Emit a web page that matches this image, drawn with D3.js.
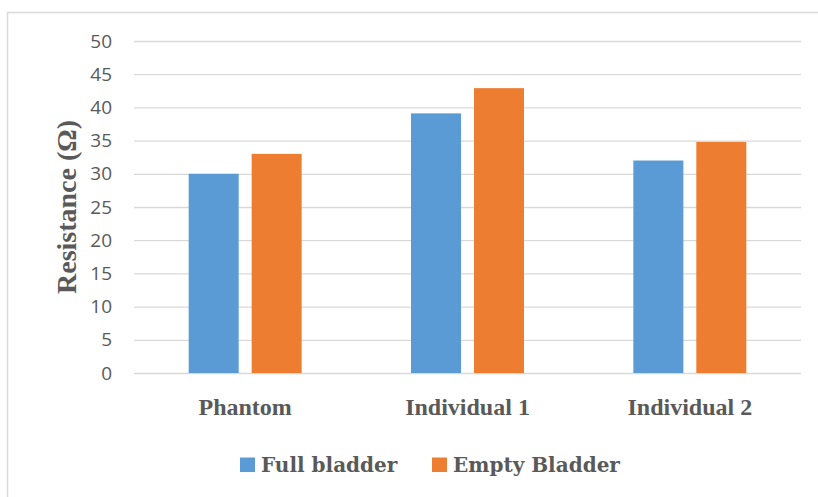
<!DOCTYPE html>
<html>
<head>
<meta charset="utf-8">
<script src="https://cdn.jsdelivr.net/npm/d3@7"></script>
<style>
  body { margin: 0; background: #fff; }
</style>
</head>
<body>
<div id="chart"></div>
<script>
const categories = ["Phantom", "Individual 1", "Individual 2"];
const seriesNames = ["Full bladder", "Empty Bladder"];
const fullBladder = [30, 39.1, 32.0];
const emptyBladder = [33, 42.9, 34.8];
const yTicks = [0, 5, 10, 15, 20, 25, 30, 35, 40, 45, 50];
const colors = ["#5b9bd5", "#ed7d31"];

const width = 818, height = 497;
const margin = {top: 41, right: 17, bottom: 124, left: 134};

const svg = d3.select("#chart").append("svg")
    .attr("width", width)
    .attr("height", height);

// outer chart border
svg.append("rect")
    .attr("x", 7.5).attr("y", 12.5)
    .attr("width", 900).attr("height", 600)
    .attr("fill", "none")
    .attr("stroke", "#d9d9d9")
    .attr("stroke-width", 1.5);

const x = d3.scaleBand()
    .domain(categories)
    .range([margin.left, width - margin.right]);

const x1 = d3.scaleBand()
    .domain(seriesNames)
    .range([0, x.bandwidth()])
    .paddingInner(0.206)
    .paddingOuter(0.868);

const y = d3.scaleLinear()
    .domain([0, 50])
    .range([height - margin.bottom, margin.top]);

// gridlines + y labels
const yAxis = d3.axisLeft(y).tickValues(yTicks).tickSize(0).tickPadding(22);
svg.append("g")
    .attr("transform", `translate(${margin.left},0)`)
    .call(yAxis)
    .call(g => g.select(".domain").remove())
    .call(g => g.selectAll(".tick text")
        .attr("fill", "#595959")
        .style("font-family", "'Open Sans', sans-serif")
        .style("font-size", "19px"))
    .call(g => g.selectAll(".tick line").clone()
        .attr("x2", width - margin.left - margin.right)
        .attr("stroke", "#d9d9d9")
        .attr("stroke-width", 1.3));

const data = categories.map((c, i) => ({cat: c, values: [fullBladder[i], emptyBladder[i]]}));

svg.append("g")
  .selectAll("g")
  .data(data)
  .join("g")
    .attr("transform", d => `translate(${x(d.cat)},0)`)
  .selectAll("rect")
  .data(d => d.values.map((v, j) => ({name: seriesNames[j], value: v, j})))
  .join("rect")
    .attr("x", d => x1(d.name))
    .attr("y", d => y(d.value))
    .attr("width", x1.bandwidth())
    .attr("height", d => y(0) - y(d.value))
    .attr("fill", d => colors[d.j]);

// category labels
const xAxis = d3.axisBottom(x).tickSize(0);
svg.append("g")
    .attr("transform", `translate(0,${y(0)})`)
    .call(xAxis)
    .call(g => g.select(".domain").remove())
    .call(g => g.selectAll(".tick text")
        .attr("y", 42)
        .attr("dy", null)
        .attr("fill", "#595959")
        .style("font-family", "'Liberation Serif', serif")
        .style("font-weight", "bold")
        .style("font-size", "24px"));

// y title
svg.append("text")
    .attr("transform", `translate(76,${(y(0) + y(50)) / 2}) rotate(-90)`)
    .attr("text-anchor", "middle")
    .attr("fill", "#595959")
    .style("font-family", "'Liberation Serif', serif")
    .style("font-weight", "bold")
    .style("font-size", "28px")
    .text("Resistance (Ω)");

// legend
const legend = svg.append("g").attr("transform", "translate(240,457.5)");
const legendX = [0, 192];
seriesNames.forEach((name, i) => {
  const g = legend.append("g").attr("transform", `translate(${legendX[i]},0)`);
  g.append("rect").attr("width", 15).attr("height", 14.5).attr("fill", colors[i]);
  g.append("text")
      .attr("x", 21).attr("y", 14.5)
      .attr("fill", "#595959")
      .style("font-family", "'DejaVu Serif', serif")
      .style("font-weight", "bold")
      .style("font-size", "20px")
      .text(name);
});
</script>
</body>
</html>
